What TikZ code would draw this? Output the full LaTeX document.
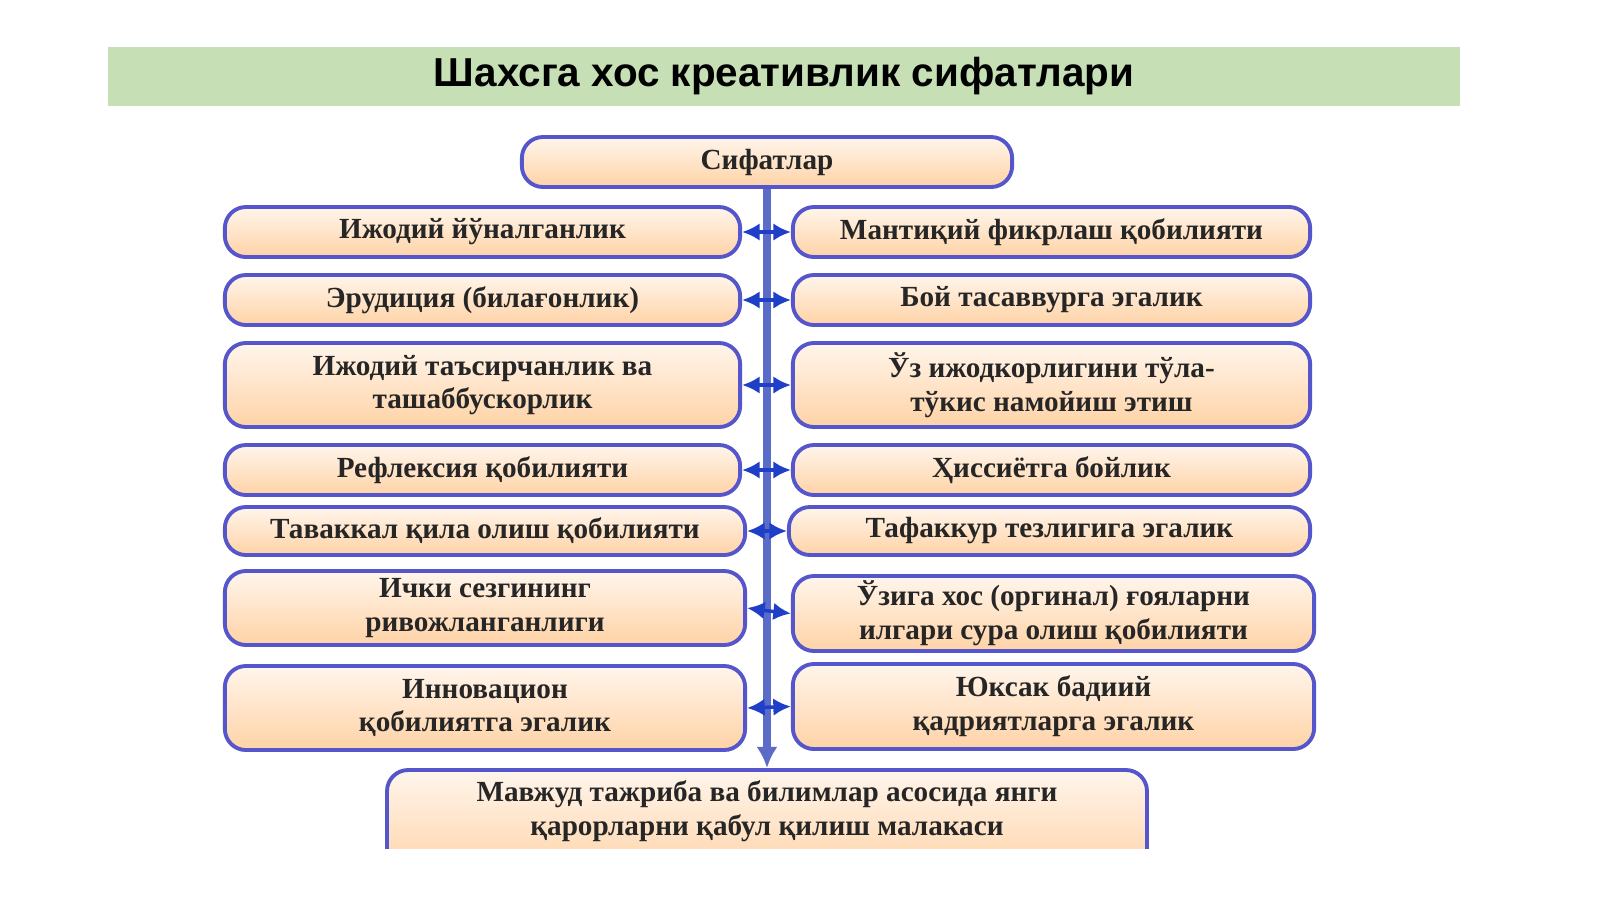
\documentclass[tikz,border=0pt]{standalone}
\usepackage{fontspec}
\setmainfont{Liberation Serif}
\setsansfont{Liberation Sans}
\usetikzlibrary{arrows.meta}
\definecolor{bar}{HTML}{C6DFB5}
\definecolor{edge}{HTML}{5555CC}
\definecolor{conn}{HTML}{5A6BC8}
\definecolor{arr}{HTML}{1F3FC8}
\begin{document}
\begin{tikzpicture}[x=0.01cm,y=-0.01cm,
  bx/.style={draw=edge,line width=1.1pt,rounded corners=6pt,top color=white!70!orange!25,bottom color=orange!35!white,
    font=\bfseries\fontsize{8.3}{9.6}\selectfont,align=center,text=black!85,inner sep=0pt},
  lk/.style={-{Latex[length=5pt,width=5pt]},draw=arr,line width=1pt}]
\useasboundingbox (0,0) rectangle (1600,899);
\fill[white] (0,0) rectangle (1600,899);
\node[fill=bar,minimum width=13.52cm,minimum height=0.59cm,inner sep=0pt,font=\sffamily\bfseries\fontsize{11.5}{13}\selectfont] (title) at (784,76.5) {Шахсга хос креативлик сифатлари};
\node[bx,minimum width=4.9cm,minimum height=0.5cm] (top) at (767,162) {Сифатлар};
% left
\node[bx,minimum width=5.15cm,minimum height=0.5cm] (l1) at (482.5,232) {Ижодий йўналганлик};
\node[bx,minimum width=5.15cm,minimum height=0.5cm] (l2) at (482.5,300) {Эрудиция (билағонлик)};
\node[bx,minimum width=5.15cm,minimum height=0.84cm] (l3) at (482.5,385) {Ижодий таъсирчанлик ва\\ташаббускорлик};
\node[bx,minimum width=5.15cm,minimum height=0.5cm] (l4) at (482.5,470) {Рефлексия қобилияти};
\node[bx,minimum width=5.2cm,minimum height=0.48cm] (l5) at (485,531) {Таваккал қила олиш қобилияти};
\node[bx,minimum width=5.2cm,minimum height=0.74cm] (l6) at (485,608) {Ички сезгининг\\ривожланганлиги};
\node[bx,minimum width=5.2cm,minimum height=0.84cm] (l7) at (485,708) {Инновацион\\қобилиятга эгалик};
% right
\node[bx,minimum width=5.17cm,minimum height=0.5cm] (r1) at (1051.5,232) {Мантиқий фикрлаш қобилияти};
\node[bx,minimum width=5.17cm,minimum height=0.5cm] (r2) at (1051.5,300) {Бой тасаввурга эгалик};
\node[bx,minimum width=5.17cm,minimum height=0.84cm] (r3) at (1051.5,385) {Ўз ижодкорлигини тўла-\\тўкис намойиш этиш};
\node[bx,minimum width=5.17cm,minimum height=0.5cm] (r4) at (1051.5,470) {Ҳиссиётга бойлик};
\node[bx,minimum width=5.21cm,minimum height=0.48cm] (r5) at (1049.5,531) {Тафаккур тезлигига эгалик};
\node[bx,minimum width=5.21cm,minimum height=0.75cm] (r6) at (1053.5,613.5) {Ўзига хос (оргинал) ғояларни\\илгари сура олиш қобилияти};
\node[bx,minimum width=5.21cm,minimum height=0.85cm] (r7) at (1053.5,706.5) {Юксак бадиий\\қадриятларга эгалик};
% bottom (cut at the page edge)
\begin{scope}
\clip (0,760) rectangle (1600,848);
\draw[draw=edge,line width=1.1pt,rounded corners=6pt,top color=white!70!orange!25,bottom color=orange!35!white] (387,770) rectangle (1147,880);
\end{scope}
\node[font=\bfseries\fontsize{8.3}{9.6}\selectfont,align=center,text=black!85,inner sep=0pt] (bot) at (767,811) {Мавжуд тажриба ва билимлар асосида янги\\қарорларни қабул қилиш малакаси};
% connectors
\coordinate (e) at (767,768);
\draw[draw=conn,line width=2pt,-{Latex[length=6pt,width=6pt]}] (top.south) -- (e);
\foreach \i in {1,...,7}{
  \path (l\i.east) -- (r\i.west) coordinate[pos=0.5] (m\i);
  \coordinate (c\i) at (767,0 |- m\i);
  \draw[lk] (c\i) -- (l\i.east);
  \draw[lk] (c\i) -- (r\i.west);
}
\end{tikzpicture}
\end{document}
